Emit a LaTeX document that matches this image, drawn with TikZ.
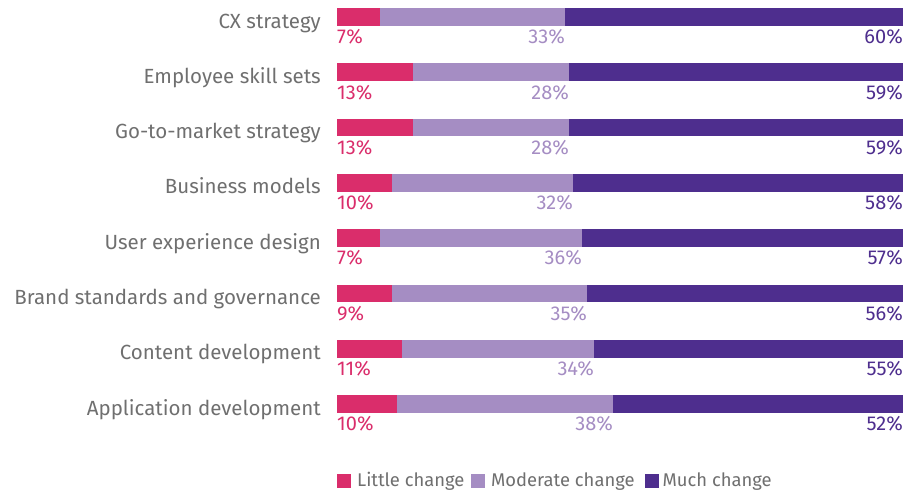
\documentclass[tikz,border=0pt]{standalone}
\usepackage{fontspec}
\setmainfont{Fira Sans}
\definecolor{little}{HTML}{DA2D6B}
\definecolor{moderate}{HTML}{A58DC3}
\definecolor{much}{HTML}{4E2E8E}
\definecolor{labelgray}{HTML}{6F6F6F}
\begin{document}
\begin{tikzpicture}[x=1pt,y=-1pt]
  \tikzstyle{cat label}=[anchor=base east,inner sep=0,text=labelgray,font=\fontsize{20.5}{24}\selectfont]
  \tikzstyle{pct label}=[inner sep=0,font=\fontsize{20}{24}\selectfont]
  \tikzstyle{legend box}=[minimum size=14pt,inner sep=0,anchor=north west]
  \tikzstyle{legend text}=[anchor=base west,inner sep=0,text=labelgray,font=\fontsize{18.4}{22}\selectfont]
  \useasboundingbox (0,0) rectangle (906,491);
  % rows: index/category/end of little/end of moderate/three shares
  \foreach \n/\name/\a/\b/\pa/\pb/\pc in {
      0/CX strategy/380/565/7/33/60,
      1/Employee skill sets/413/569/13/28/59,
      2/Go-to-market strategy/413/569/13/28/59,
      3/Business models/392/573/10/32/58,
      4/User experience design/380/582/7/36/57,
      5/Brand standards and governance/392/587/9/35/56,
      6/Content development/402/594/11/34/55,
      7/Application development/397/613/10/38/52}{
    \pgfmathsetmacro{\ytop}{8+55.3*\n}
    \fill[little] (337,\ytop) rectangle (\a,\ytop+17.7);
    \fill[moderate] (\a,\ytop) rectangle (\b,\ytop+17.7);
    \fill[much] (\b,\ytop) rectangle (903,\ytop+17.7);
    \node[cat label] (cat\n) at (321,\ytop+20) {\name};
    \node[pct label,anchor=base west,text=little] (pl\n) at (337,\ytop+35.7) {\pa\%};
    \node[pct label,anchor=base east,text=moderate] (pm\n) at (\b,\ytop+35.7) {\pb\%};
    \node[pct label,anchor=base east,text=much] (ph\n) at (903,\ytop+35.7) {\pc\%};
  }
  % legend
  \node[legend box,fill=little] (lg1) at (337,474) {};
  \node[legend text] (lt1) at ([xshift=5.5pt,yshift=1.7pt]lg1.south east) {Little change};
  \node[legend box,fill=moderate] (lg2) at (471,474) {};
  \node[legend text] (lt2) at ([xshift=5.5pt,yshift=1.7pt]lg2.south east) {Moderate change};
  \node[legend box,fill=much] (lg3) at (645,474) {};
  \node[legend text] (lt3) at ([xshift=3pt,yshift=1.7pt]lg3.south east) {Much change};
\end{tikzpicture}
\end{document}
